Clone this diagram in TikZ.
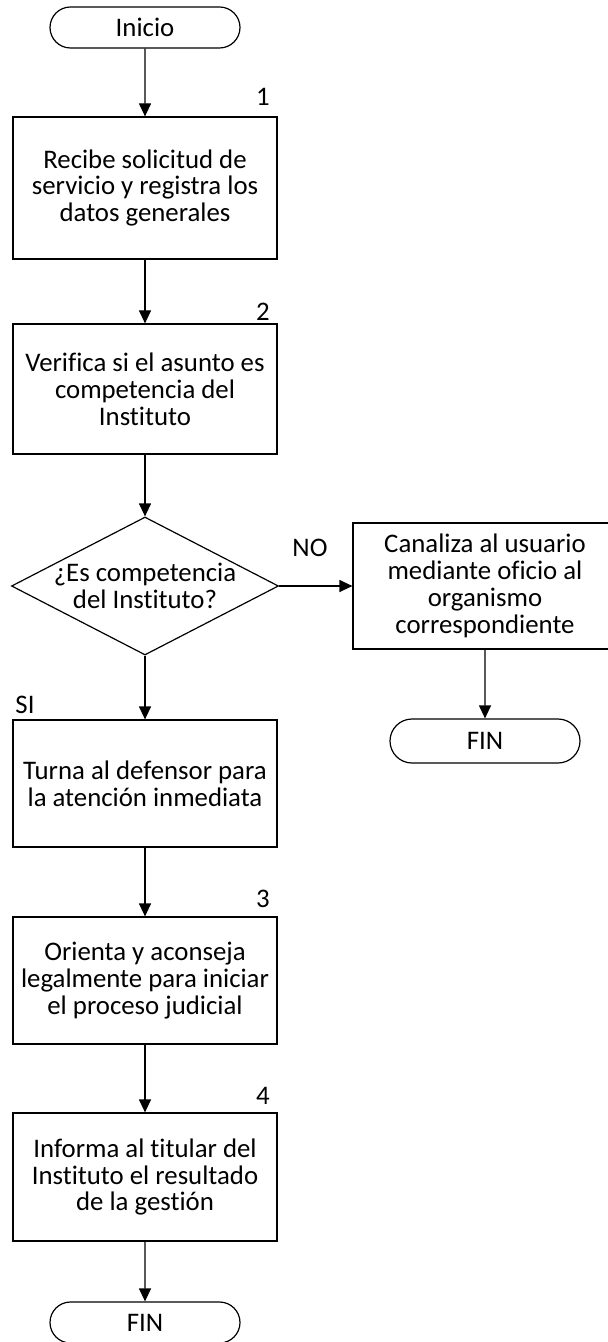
\documentclass[tikz,border=0pt]{standalone}
\usepackage{fontspec}
\setmainfont[Ligatures=NoCommon]{Carlito}
\usetikzlibrary{shapes.geometric,shapes.misc,arrows.meta}

\begin{document}
\begin{tikzpicture}[x=0.5pt,y=-0.5pt,
  font=\fontsize{13.4}{13.4}\selectfont,
  every node/.style={inner sep=0pt},
  caja/.style={draw,line width=0.6pt,minimum width=132pt,align=center},
  term/.style={draw,line width=0.6pt,rounded rectangle,minimum width=95pt,minimum height=20.5pt},
  decision/.style={draw,line width=0.6pt,diamond,minimum width=133.5pt,minimum height=69pt},
  flecha/.style={line width=0.6pt,-{Triangle[length=6.5pt,width=6pt]}}]
\useasboundingbox (0,0) rectangle (607,1342);

\node[term] (inicio) at (145,27.5) {Inicio};
\node[caja,minimum height=71pt] (recibe) at (145,188) {Recibe solicitud de\\servicio y registra los\\datos generales};
\node[caja,minimum height=65pt] (verifica) at (145,389) {Verifica si el asunto es\\competencia del\\Instituto};
\node[decision] (escomp) at (145,586) {};
\node[align=center] (escomptxt) at (escomp.center) {¿Es competencia\\del Instituto?};
\node[caja,minimum height=63pt] (canaliza) at (485,586) {Canaliza al usuario\\mediante oficio al\\organismo\\correspondiente};
\node[term,minimum height=22pt] (fin2) at (485,741) {FIN};
\node[caja,minimum height=63.5pt] (turna) at (145,783.5) {Turna al defensor para\\la atención inmediata};
\node[caja,minimum height=63.5pt] (orienta) at (145,980.5) {Orienta y aconseja\\legalmente para iniciar\\el proceso judicial};
\node[caja,minimum height=64pt] (informa) at (145,1177) {Informa al titular del\\Instituto el resultado\\de la gestión};
\node[term] (fin1) at (145,1322.5) {FIN};

\node (n1) at (263,97) {1};
\node (n2) at (263,312) {2};
\node (n3) at (263,899) {3};
\node (n4) at (263,1096) {4};
\node (no) at (310,548) {NO};
\node (si) at (25,705) {SI};

\draw[flecha] (inicio) -- (recibe);
\draw[flecha] (recibe) -- (verifica);
\draw[flecha] (verifica) -- (escomp);
\draw[flecha] (escomp.east) -- (canaliza);
\draw[flecha] (canaliza) -- (fin2);
\draw[flecha] (escomp.south) -- (turna);
\draw[flecha] (turna) -- (orienta);
\draw[flecha] (orienta) -- (informa);
\draw[flecha] (informa) -- (fin1);
\end{tikzpicture}
\end{document}
